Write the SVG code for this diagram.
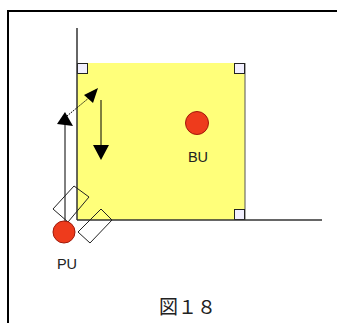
<svg xmlns="http://www.w3.org/2000/svg" width="337" height="323" viewBox="0 0 337 323">
<style>
.frame{fill:none;stroke:#000;stroke-width:2}
.axis{stroke:#333;stroke-width:1.5;fill:none}
.corner{fill:#f2f0ff;stroke:#222;stroke-width:1}
.unit{fill:#ee3b1c;stroke:#a01a0a;stroke-width:1}
.lbl{font-family:"Liberation Sans",Arial,sans-serif;font-size:14.5px;fill:#222}
.ln{stroke:#000;stroke-width:1;fill:none}
.head{fill:#000}
.dia{fill:none;stroke:#222;stroke-width:1}
.cap{font-family:"Liberation Serif","Noto Sans CJK JP",serif;font-size:19px;fill:#222}
</style>
<rect width="337" height="323" fill="#fff"/>
<path class="frame" d="M8,323 V11 H337"/>
<g id="square">
<rect x="77" y="63" width="168" height="157" fill="#ffff7a"/>
<line x1="245" y1="63" x2="245" y2="220" stroke="#555" stroke-width="1"/>
<rect class="corner" x="77.5" y="63.5" width="10" height="10"/>
<rect class="corner" x="234.5" y="63.5" width="10" height="10"/>
<rect class="corner" x="234.5" y="209.5" width="10" height="10"/>
</g>
<g id="axes">
<line class="axis" x1="77" y1="28" x2="77" y2="220"/>
<line class="axis" x1="77" y1="220" x2="322" y2="220"/>
</g>
<g id="connectors">
<line class="ln" x1="65" y1="222" x2="65" y2="120"/>
<polygon class="head" points="65,112 57,124 73,126"/>
<line class="ln" x1="67" y1="116" x2="90" y2="97" stroke-dasharray="1.5,1"/>
<polygon class="head" points="98,88 84,95 93,103"/>
<line class="ln" x1="101" y1="100" x2="101" y2="147"/>
<polygon class="head" points="93,145 109,145 101,160"/>
</g>
<g id="diamonds">
<polygon class="dia" points="53,209 74,186 89,197 68,222"/>
<polygon class="dia" points="78,232 101,209 112,220 90,243"/>
</g>
<g id="PU">
<circle class="unit" cx="64" cy="232" r="11"/>
<text class="lbl" x="67" y="269" text-anchor="middle">PU</text>
</g>
<g id="BU">
<circle class="unit" cx="197" cy="123" r="11.5"/>
<text class="lbl" x="198" y="162" text-anchor="middle">BU</text>
</g>
<g id="caption">
<text class="cap" x="159" y="314">図１８</text>
</g>
</svg>
